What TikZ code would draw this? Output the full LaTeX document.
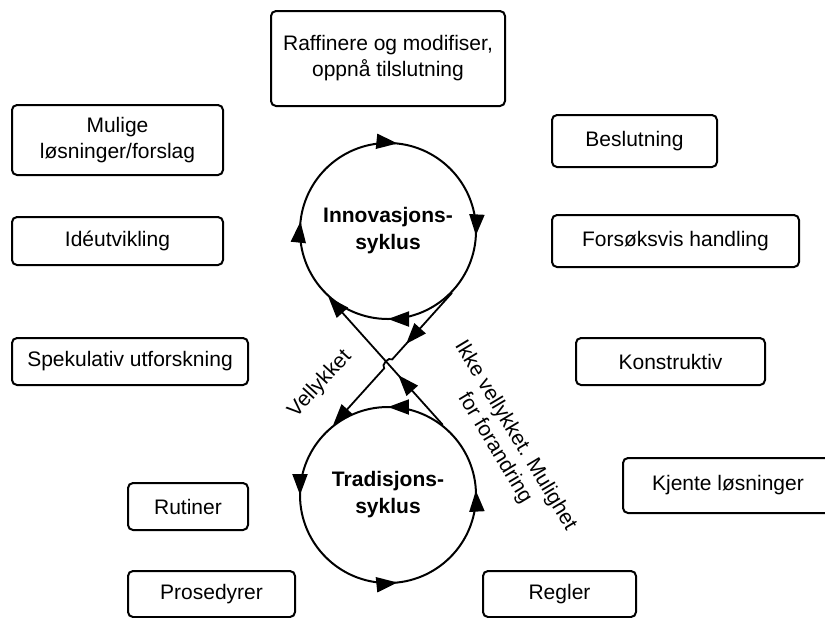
\documentclass[tikz,border=0pt]{standalone}
\usepackage{fontspec}
\setmainfont{Liberation Sans}
\usetikzlibrary{arrows.meta,decorations.markings,calc}

\begin{document}
\begin{tikzpicture}[
            x=0.5pt, y=0.5pt,
            >={Triangle[length=10.5pt,width=7.5pt]},
            box/.style={
                    rectangle,
                    rounded corners=2.5pt,
                    draw=black,
                    line width=1pt,
                    minimum height=24pt,
                    align=center,
                    font=\fontsize{10.5}{13}\selectfont
                },
            ring/.style={
                    circle,
                    draw=black,
                    line width=1pt,
                    minimum size=88pt,
                    align=center,
                    font=\fontsize{10.5}{13.5}\selectfont\bfseries
                },
            cwtips/.style={postaction={decorate}, decoration={markings,
                    mark=at position 0.233 with {\arrowreversed{>}},
                    mark=at position 0.483 with {\arrowreversed{>}},
                    mark=at position 0.75 with {\arrowreversed{>}},
                    mark=at position 0.992 with {\arrowreversed{>}}}},
            ccwtips/.style={postaction={decorate}, decoration={markings,
                    mark=at position 0.008 with {\arrow{>}},
                    mark=at position 0.25 with {\arrow{>}},
                    mark=at position 0.5 with {\arrow{>}},
                    mark=at position 0.767 with {\arrow{>}}}},
            midtip/.style={postaction={decorate}, decoration={markings,
                    mark=at position #1 with {\arrow{>}}}},
            link/.style={->, line width=0.9pt},
            lbl/.style={align=center, font=\fontsize{10.5}{12}\selectfont}
        ]
        \useasboundingbox (0,0) rectangle (825,-617);

        \node[ring, cwtips] (inno) at (388,-231) {Innovasjons-\\syklus};
        \node[ring, ccwtips] (trad) at (388,-495) {Tradisjons-\\syklus};

        \node[box, minimum width=117pt, minimum height=47.5pt] (raff) at (388,-58.5) {Raffinere og modifiser,\\oppnå tilslutning};
        \node[box, minimum width=105.5pt, minimum height=35pt] (mulige) at (117.5,-140) {Mulige\\løsninger/forslag};
        \node[box, minimum width=105.5pt] (ide) at (117.5,-241) {Idéutvikling};
        \node[box, minimum width=118pt, minimum height=23.5pt] (spek) at (130,-361.5) {Spekulativ utforskning};
        \node[box, minimum width=60pt, minimum height=23.5pt] (rutiner) at (188,-506.5) {Rutiner};
        \node[box, minimum width=83.5pt, minimum height=23pt] (prosedyrer) at (211.5,-594) {Prosedyrer};

        \node[box, minimum width=82.5pt, minimum height=26pt] (beslutning) at (634.5,-141) {Beslutning};
        \node[box, minimum width=123.5pt, minimum height=26pt] (forsok) at (675.5,-241) {Forsøksvis handling};
        \node[box, minimum width=94.5pt, minimum height=23.5pt] (konstruktiv) at (670.5,-361.5) {Konstruktiv};
        \node[box, minimum width=105pt, minimum height=27.5pt] (kjente) at (728,-485.5) {Kjente løsninger};
        \node[box, minimum width=76.5pt, minimum height=23pt] (regler) at (559.5,-594) {Regler};

        \coordinate (hop) at (intersection of inno.316--trad.128 and trad.52--inno.228);
        \draw[link, midtip=0.38] (inno.316) -- ($(hop)!3pt!(inno.316)$) to[bend right=90] ($(hop)!3pt!(trad.128)$) -- (trad.128);
        \draw[link, midtip=0.39] (trad.52) -- (inno.228);

        \node[lbl, rotate=47.5] (vellykket) at (320,-384) {Vellykket};
        \node[lbl, rotate=-59] (ikke) at (505,-442) {Ikke vellykket. Mulighet\\for forandring};
    \end{tikzpicture}
\end{document}
